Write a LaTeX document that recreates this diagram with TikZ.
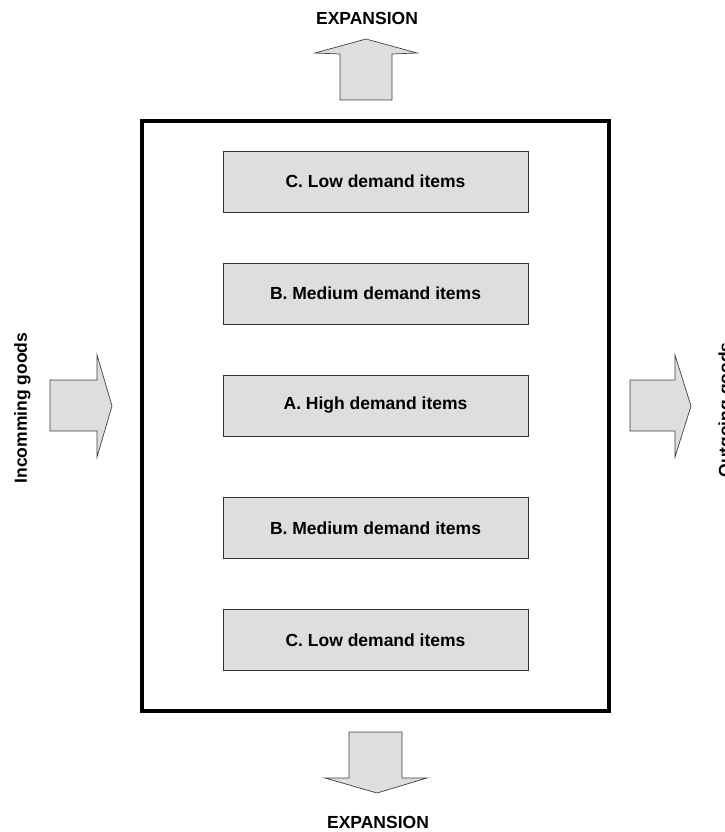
\documentclass[tikz,border=0pt]{standalone}
\usepackage{fontspec}
\setmainfont{Liberation Sans}
\begin{document}
\begin{tikzpicture}[x=1pt, y=-1pt,
  zonebox/.style={draw=black!80, fill=black!13, line width=0.9pt,
    minimum width=305pt, minimum height=61pt, inner sep=0pt,
    font=\fontsize{17.5}{20}\selectfont\bfseries},
  flowarrow/.style={draw=black!75, fill=black!13, line width=0.7pt, line join=miter},
  tag/.style={font=\fontsize{17.5}{20}\selectfont\bfseries, inner sep=0pt}]
\useasboundingbox (0,0) rectangle (724,832);

% warehouse outline
\draw[line width=3.2pt] (142,121) rectangle (609,711);

% storage zones, ordered by demand
\node[zonebox] (c1) at (375.5,181.5) {C. Low demand items};
\node[zonebox] (b1) at (375.5,293.5) {B. Medium demand items};
\node[zonebox] (a)  at (375.5,405.5) {A. High demand items};
\node[zonebox] (b2) at (375.5,528)   {B. Medium demand items};
\node[zonebox] (c2) at (375.5,640)   {C. Low demand items};

% expansion upward
\draw[flowarrow] (340,100) -- (340,54) -- (315,53) -- (366,39) -- (417,53) -- (392,54) -- (392,100) -- cycle;
\node[tag, anchor=base] (expup) at (367,25) {EXPANSION};

% expansion downward
\draw[flowarrow] (349,732) -- (402,732) -- (402,778) -- (427,778) -- (377,793) -- (325,778) -- (349,778) -- cycle;
\node[tag, anchor=base] (expdown) at (378,828.5) {EXPANSION};

% goods in
\draw[flowarrow] (50,380) -- (97,380) -- (97,355) -- (112,406) -- (97,457) -- (97,431) -- (50,431) -- cycle;
\node[tag, rotate=90, anchor=base] (ingoods) at (27,408) {Incomming goods};

% goods out
\draw[flowarrow] (630,380) -- (675,380) -- (675,355) -- (691,406) -- (675,457) -- (675,431) -- (630,431) -- cycle;
\node[tag, rotate=90, anchor=base] (outgoods) at (731,410) {Outgoing goods};
\end{tikzpicture}
\end{document}
